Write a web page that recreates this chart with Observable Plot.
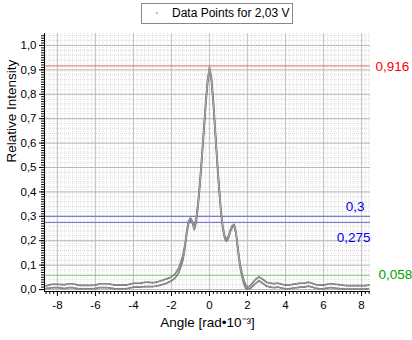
<!DOCTYPE html>
<html>
<head>
<meta charset="utf-8">
<script src="https://cdn.jsdelivr.net/npm/d3@7"></script>
<script src="https://cdn.jsdelivr.net/npm/@observablehq/plot@0.6"></script>
<style>
  body { margin: 0; background: #fff; font-family: "Liberation Sans", Arial, sans-serif; }
  #wrap { position: relative; width: 412px; height: 340px; }
  #legend { position: absolute; left: 141px; top: 3px; width: 152px; height: 21px; border: 1px solid #888;
    box-sizing: border-box; font-size: 12px; color: #000; background: #fff; }
  #legend .sym { position: absolute; left: 14px; top: 8px; width: 2px; height: 2px; background: #bbb; }
  #legend .lab { position: absolute; left: 30px; top: 2px; white-space: nowrap; }
</style>
</head>
<body>
<div id="wrap">
  <div id="chart"></div>
  <div id="legend"><span class="sym"></span><span class="lab">Data Points for 2,03 V</span></div>
</div>
<script>
const angles = [-8.6,-8.4,-8.2,-8.0,-7.8,-7.6,-7.4,-7.2,-7.0,-6.8,-6.6,-6.4,-6.2,-6.0,-5.8,-5.6,-5.4,-5.2,-5.0,-4.8,-4.6,-4.4,-4.2,-4.0,-3.8,-3.6,-3.4,-3.2,-3.0,-2.8,-2.6,-2.4,-2.2,-2.0,-1.8,-1.6,-1.4,-1.3,-1.2,-1.1,-1.0,-0.9,-0.8,-0.7,-0.6,-0.5,-0.4,-0.3,-0.2,-0.1,0.0,0.1,0.2,0.3,0.4,0.5,0.6,0.7,0.8,0.9,1.0,1.1,1.2,1.3,1.4,1.5,1.6,1.7,1.8,1.9,2.0,2.1,2.2,2.4,2.6,2.8,3.0,3.2,3.4,3.6,3.8,4.0,4.2,4.4,4.6,4.8,5.0,5.2,5.4,5.6,5.8,6.0,6.2,6.4,6.6,6.8,7.0,7.2,7.4,7.6,7.8,8.0,8.2,8.4];
const upper = [0.015,0.020,0.022,0.022,0.020,0.020,0.024,0.024,0.020,0.017,0.017,0.017,0.017,0.018,0.024,0.024,0.024,0.022,0.018,0.018,0.018,0.018,0.022,0.026,0.026,0.026,0.030,0.030,0.028,0.030,0.035,0.040,0.045,0.052,0.065,0.090,0.140,0.180,0.240,0.280,0.293,0.280,0.255,0.290,0.360,0.450,0.550,0.660,0.770,0.860,0.910,0.870,0.780,0.660,0.540,0.430,0.330,0.260,0.220,0.205,0.220,0.245,0.262,0.267,0.235,0.170,0.110,0.070,0.040,0.020,0.010,0.012,0.022,0.040,0.052,0.042,0.030,0.026,0.024,0.026,0.022,0.018,0.018,0.022,0.024,0.026,0.026,0.030,0.026,0.020,0.018,0.018,0.022,0.024,0.022,0.020,0.018,0.016,0.016,0.016,0.016,0.016,0.016,0.018];
const lower = [0.004,0.006,0.008,0.008,0.006,0.004,0.008,0.008,0.004,0.003,0.003,0.003,0.003,0.004,0.008,0.008,0.008,0.006,0.003,0.003,0.003,0.003,0.006,0.010,0.010,0.010,0.012,0.012,0.012,0.014,0.018,0.022,0.028,0.036,0.048,0.072,0.120,0.165,0.225,0.270,0.285,0.272,0.245,0.275,0.340,0.430,0.530,0.640,0.750,0.845,0.900,0.855,0.760,0.640,0.520,0.410,0.315,0.248,0.210,0.197,0.212,0.238,0.255,0.260,0.225,0.155,0.095,0.055,0.025,0.006,0.002,0.002,0.008,0.024,0.036,0.026,0.014,0.010,0.008,0.010,0.006,0.003,0.003,0.006,0.008,0.010,0.010,0.014,0.010,0.005,0.003,0.003,0.006,0.008,0.006,0.004,0.003,0.002,0.002,0.002,0.002,0.002,0.002,0.004];

const refValues = [0.916, 0.3, 0.275, 0.058];
const refLabels = ["0,916", "0,3", "0,275", "0,058"];
const refLineColors = ["#e87070", "#7070d8", "#7070d8", "#80d080"];
const refTextColors = ["#ff0000", "#0000ff", "#0000ff", "#00a000"];

const xTicks = [-8, -6, -4, -2, 0, 2, 4, 6, 8];
const yTicks = [0, 0.1, 0.2, 0.3, 0.4, 0.5, 0.6, 0.7, 0.8, 0.9, 1.0];
const xTitle = "Angle [rad\u202210\u207B\u00B3]";
const yTitle = "Relative Intensity";

const data = [];
angles.forEach((a, i) => {
  data.push({angle: a, value: upper[i], s: "upper"});
  data.push({angle: a, value: lower[i], s: "lower"});
});
const refs = refValues.map((v, i) => ({v, label: refLabels[i], lc: refLineColors[i], tc: refTextColors[i]}));

const xMinor = d3.range(-8.6, 8.5, 0.2).map(d => Math.round(d * 10) / 10);
const yMinorGrid = d3.range(0, 1.05, 0.02).map(d => Math.round(d * 100) / 100);
const yMinorTicks = d3.range(0, 1.05, 0.01).map(d => Math.round(d * 100) / 100);
const fmt = d => d3.format(".1f")(d).replace(".", ",");

const chart = Plot.plot({
  width: 412,
  height: 340,
  marginLeft: 44,
  marginRight: 42,
  marginTop: 33,
  marginBottom: 49,
  style: {fontFamily: "'Liberation Sans', Arial, sans-serif", fontSize: "11px", background: "#fff", overflow: "visible"},
  x: {domain: [-8.68, 8.47]},
  y: {domain: [-0.008, 1.049]},
  marks: [
    Plot.ruleX(xMinor, {stroke: "#d0d0d0", strokeDasharray: "1,1", strokeWidth: 0.7}),
    Plot.ruleY(yMinorGrid, {stroke: "#d0d0d0", strokeDasharray: "1,1", strokeWidth: 0.7}),
    Plot.ruleX(xTicks, {stroke: "#c8c8c8", strokeWidth: 1.2}),
    Plot.ruleY(yTicks, {stroke: "#b8b8b8", strokeWidth: 1}),
    Plot.ruleY(refs, {y: "v", stroke: "lc", strokeWidth: 1}),
    Plot.line(data, {x: "angle", y: "value", z: "s", stroke: "#5a5a5a", strokeWidth: 1.6, strokeDasharray: "1.5,0.8", curve: "linear"}),
    Plot.line(data, {x: "angle", y: "value", z: "s", stroke: "#c0c0c0", strokeWidth: 0.6, curve: "linear"}),
    Plot.text(refs.filter((d, i) => i === 0), {x: 8.47, y: "v", text: "label", fill: "tc", textAnchor: "start", dx: 5, dy: 1, fontSize: 13.5}),
    Plot.text(refs.filter((d, i) => i === 1), {x: 8.47, y: "v", text: "label", fill: "tc", textAnchor: "end", dx: -6, dy: -10, fontSize: 13.5}),
    Plot.text(refs.filter((d, i) => i === 2), {x: 8.47, y: "v", text: "label", fill: "tc", textAnchor: "end", dx: 0, dy: 15, fontSize: 13.5}),
    Plot.text(refs.filter((d, i) => i === 3), {x: 8.47, y: "v", text: "label", fill: "tc", textAnchor: "start", dx: 8, dy: -1, fontSize: 13.5}),
    Plot.axisX(xMinor, {tickSize: 3, tickFormat: () => "", stroke: "#000", label: null}),
    Plot.axisX(xTicks, {tickSize: 5, tickFormat: d => String(d), fontSize: 11.5, tickPadding: 4, label: null}),
    Plot.axisY(yMinorTicks, {tickSize: 3, tickFormat: () => "", stroke: "#000", label: null}),
    Plot.axisY(yTicks, {tickSize: 5, tickFormat: fmt, fontSize: 11.5, tickPadding: 3, label: null}),
    Plot.text([xTitle], {frameAnchor: "bottom", text: d => d, dy: 35, fontSize: 13.5, fill: "#000"}),
    Plot.text([yTitle], {frameAnchor: "left", text: d => d, rotate: -90, dx: -33, fontSize: 13.5, fill: "#000"}),
    Plot.ruleX([-8.68], {stroke: "#000", strokeWidth: 1}),
    Plot.ruleY([-0.008], {stroke: "#000", strokeWidth: 1})
  ]
});
document.getElementById("chart").appendChild(chart);
</script>
</body>
</html>
